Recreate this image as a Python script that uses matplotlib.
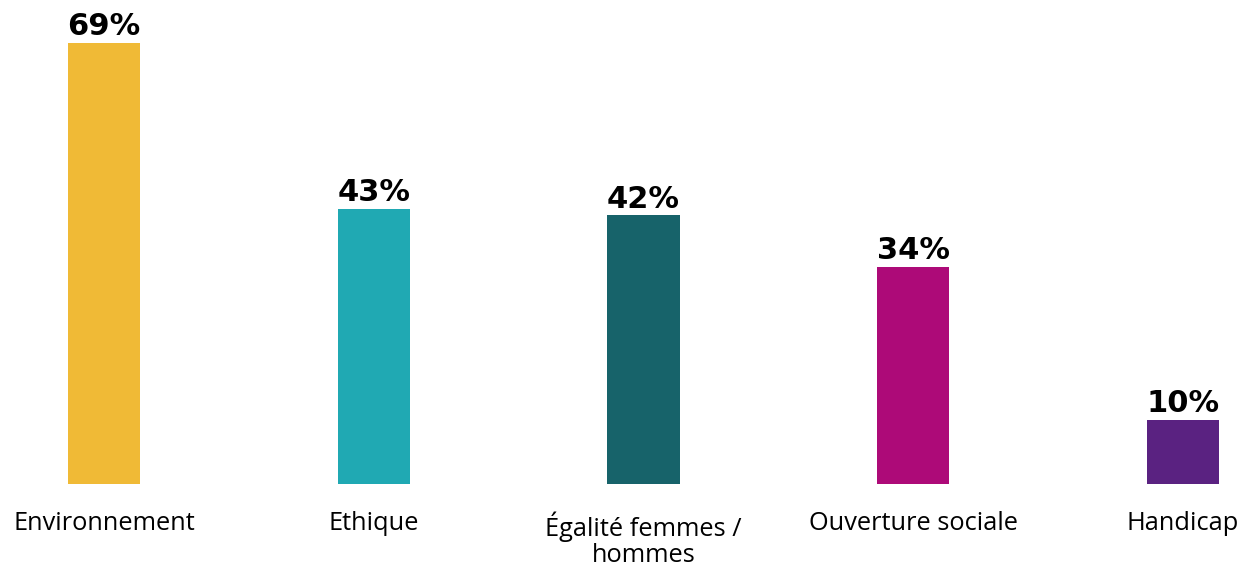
import matplotlib.pyplot as plt
import numpy as np

categories = ["Environnement", "Ethique", "Égalité femmes /\nhommes",
              "Ouverture sociale", "Handicap"]
values = [69, 43, 42, 34, 10]
colors = ["#F0BA36", "#20A9B3", "#17636A", "#AD0A78", "#5A2281"]

fig = plt.figure(figsize=(12.46, 5.65), dpi=100)
ax = fig.add_axes([0, 0.1434, 1, 0.8566])

x = np.arange(len(categories))
bars = ax.bar(x, values, width=0.267, color=colors)

for xi, v in zip(x, values):
    ax.text(xi, v + 0.3, f"{v}%", ha="center", va="bottom",
            fontsize=22, fontweight="heavy", family=["DejaVu Sans"])

for xi, c in zip(x, categories):
    ax.text(xi, -4.3, c, ha="center", va="top", fontsize=18.3,
            family=["Open Sans", "DejaVu Sans"], linespacing=1.08)

ax.set_xlim(-0.3855, 4.2335)
ax.set_ylim(0, 75.7)
ax.axis("off")

fig.savefig("out.png", dpi=100)
